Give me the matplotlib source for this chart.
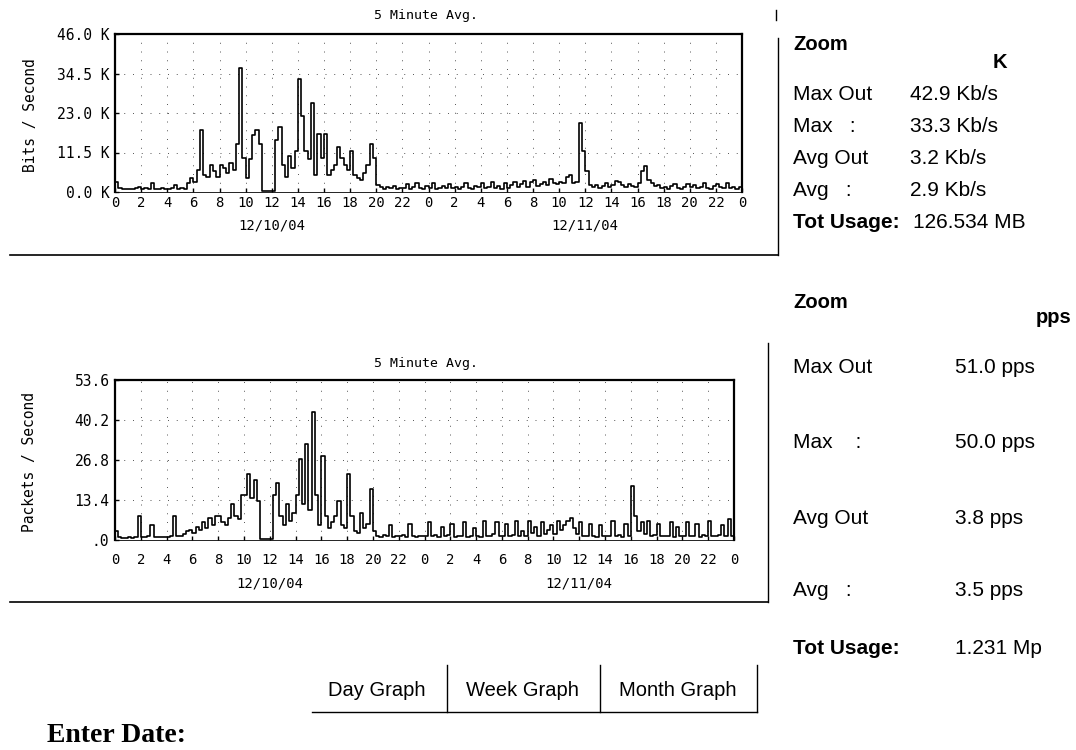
import numpy as np
import matplotlib
matplotlib.use("Agg")
import matplotlib.pyplot as plt
from matplotlib.lines import Line2D
from matplotlib.transforms import blended_transform_factory

# 5-minute averages, sampled every quarter hour over two days (12/10/04, 12/11/04)
STEP_H = 0.25

bits_k = [
    3.0, 1.2, 0.8, 0.9, 1.0, 0.9, 1.1, 1.4,
    1.0, 1.2, 0.9, 2.5, 1.0, 0.9, 1.1, 1.0,
    0.9, 1.2, 2.0, 1.0, 1.1, 0.9, 2.5, 4.0,
    3.0, 6.5, 18.0, 5.0, 4.5, 8.0, 6.0, 4.5,
    8.0, 7.0, 5.5, 8.5, 6.5, 14.0, 36.0, 10.0,
    4.0, 9.5, 16.5, 18.0, 14.0, 0.2, 0.2, 0.2,
    0.2, 15.0, 19.0, 8.0, 4.5, 10.5, 7.0, 12.0,
    33.0, 22.0, 12.0, 9.5, 26.0, 5.0, 17.0, 10.0,
    17.0, 5.0, 6.5, 8.0, 13.0, 10.0, 8.0, 6.5,
    12.0, 5.0, 4.0, 3.5, 5.5, 8.0, 14.0, 10.0,
    2.0, 1.5, 1.0, 1.4, 1.2, 1.8, 1.0, 1.3,
    1.1, 2.2, 1.0, 1.5, 2.5, 1.2, 1.0, 1.8,
    1.2, 2.5, 1.0, 1.3, 1.8, 1.1, 2.4, 1.2,
    1.5, 1.0, 1.6, 2.6, 1.2, 1.0, 1.8, 1.4,
    2.5, 1.1, 1.5, 2.8, 1.2, 1.8, 1.0, 2.6,
    1.3, 1.9, 3.0, 1.4, 2.2, 3.2, 1.5, 2.8,
    3.5, 1.8, 2.4, 3.0, 2.0, 3.8, 2.5, 2.2,
    3.0, 2.5, 4.5, 5.0, 2.5, 3.0, 20.0, 12.0,
    6.0, 2.0, 1.5, 2.0, 1.2, 1.8, 2.5, 1.6,
    2.0, 3.2, 2.8, 2.0, 1.5, 2.2, 1.8, 1.5,
    2.5, 6.0, 7.5, 3.5, 2.5, 1.8, 2.0, 1.2,
    1.5, 1.0, 1.8, 2.4, 1.2, 1.0, 1.6, 2.2,
    1.4, 2.0, 1.1, 1.5, 2.6, 1.3, 1.0, 1.8,
    2.2, 1.4, 1.1, 2.5, 1.2, 1.5, 1.0, 1.6,
    1.2,
]

packets = [
    3.0, 1.0, 0.8, 0.8, 0.9, 0.8, 1.0, 8.0,
    0.9, 1.0, 1.2, 5.0, 1.0, 0.9, 1.1, 1.0,
    1.0, 1.2, 8.0, 1.5, 1.4, 2.0, 3.0, 3.5,
    2.5, 4.5, 3.5, 6.0, 4.0, 7.5, 5.0, 8.0,
    8.0, 6.0, 5.0, 7.5, 12.0, 8.0, 7.0, 15.0,
    15.0, 22.0, 14.0, 20.0, 13.0, 0.2, 0.2, 0.2,
    0.2, 15.0, 19.0, 8.0, 5.0, 12.0, 6.5, 9.0,
    15.0, 27.0, 12.0, 32.0, 10.0, 43.0, 15.0, 5.0,
    28.0, 8.0, 4.0, 6.0, 8.0, 13.0, 5.0, 4.0,
    22.0, 8.0, 3.0, 2.5, 9.0, 4.0, 5.5, 17.0,
    3.0, 1.5, 1.0, 1.8, 1.2, 5.0, 1.0, 1.4,
    1.2, 1.6, 1.0, 5.5, 1.3, 1.0, 1.5, 1.2,
    1.5, 6.0, 1.2, 1.8, 1.0, 4.5, 1.2, 1.6,
    5.5, 1.0, 1.4, 1.2, 6.0, 1.1, 1.5, 4.0,
    1.2, 1.0, 6.5, 1.4, 1.2, 2.0, 6.0, 1.3,
    1.5, 5.5, 1.2, 1.8, 6.5, 1.2, 3.0, 1.5,
    6.5, 2.5, 4.5, 1.5, 6.0, 2.0, 3.5, 5.0,
    2.0, 6.5, 3.5, 5.0, 6.5, 7.5, 4.0, 2.0,
    6.0, 1.5, 1.2, 5.5, 1.4, 1.0, 5.0, 1.2,
    1.5, 1.3, 6.5, 1.2, 1.6, 1.0, 5.5, 1.5,
    18.0, 8.0, 3.0, 6.0, 2.0, 6.5, 1.5, 1.8,
    5.5, 1.2, 1.5, 1.3, 6.0, 1.0, 4.5, 1.2,
    1.5, 6.0, 1.2, 1.4, 5.5, 1.0, 1.8, 1.2,
    6.5, 1.4, 1.2, 1.6, 5.0, 1.3, 7.0, 1.5,
    1.5,
]

dates = ["12/10/04", "12/11/04"]
bits_ticks = [0.0, 11.5, 23.0, 34.5, 46.0]
bits_ticklabels = ["0.0 K", "11.5 K", "23.0 K", "34.5 K", "46.0 K"]
pkt_ticks = [0.0, 13.4, 26.8, 40.2, 53.6]
pkt_ticklabels = [".0", "13.4", "26.8", "40.2", "53.6"]

bits_stats = [("Max Out", "42.9 Kb/s"), ("Max   :", "33.3 Kb/s"),
              ("Avg Out", "3.2 Kb/s"), ("Avg   :", "2.9 Kb/s")]
bits_total = "126.534 MB"
pkt_stats = [("Max Out", "51.0 pps"), ("Max    :", "50.0 pps"),
             ("Avg Out", "3.8 pps"), ("Avg   :", "3.5 pps")]
pkt_total = "1.231 Mp"
buttons = ["Day Graph", "Week Graph", "Month Graph"]

W, H = 1076, 750
fig = plt.figure(figsize=(W / 100, H / 100), dpi=100)
fig.patch.set_facecolor("white")

MONO = "DejaVu Sans Mono"
SANS = "Liberation Sans"


def fx(x):
    return x / W


def fy(y):
    return 1 - y / H


def hline(x0, x1, y, lw=1.2):
    fig.add_artist(Line2D([fx(x0), fx(x1)], [fy(y), fy(y)], color="black", lw=lw))


def vline(x, y0, y1, lw=1.0):
    fig.add_artist(Line2D([fx(x), fx(x)], [fy(y0), fy(y1)], color="black", lw=lw))


def traffic_panel(rect, values, ticks, ticklabels, ylabel, title_y, ylabel_y,
                  xpad, date_off):
    ax = fig.add_axes(rect)
    hours = np.arange(len(values)) * STEP_H
    ax.plot(hours, values, color="black", lw=1.2, drawstyle="steps-post")
    ax.set_xlim(0, 48)
    ax.set_ylim(ticks[0], ticks[-1])
    ax.set_xticks(np.arange(0, 49, 2))
    ax.set_xticklabels([str(int(h) % 24) for h in np.arange(0, 49, 2)],
                       family=MONO, fontsize=10)
    ax.set_yticks(ticks)
    ax.set_yticklabels(ticklabels, family=MONO, fontsize=10.5)
    ax.tick_params(direction="in", length=3, width=1)
    ax.tick_params(axis="x", pad=xpad)
    ax.tick_params(axis="y", pad=4)
    ax.grid(True, color="#555555", lw=0.7, linestyle=(0, (1, 8)))
    for s in ax.spines.values():
        s.set_linewidth(1.6)
    ax.spines["bottom"].set_linewidth(0.6)
    tr = blended_transform_factory(ax.transData, ax.transAxes)
    for i, d in enumerate(dates):
        ax.text(12 + 24 * i, -date_off, d, transform=tr, ha="center", va="center",
                family=MONO, fontsize=10)
    fig.text(fx(426), fy(title_y), "5 Minute Avg.", ha="center", va="center",
             family=MONO, fontsize=9.5)
    fig.text(fx(30), fy(ylabel_y), ylabel, rotation=90, ha="center", va="center",
             family=MONO, fontsize=10.5)
    return ax


traffic_panel([fx(115), fy(192), fx(742) - fx(115), fy(34) - fy(192)],
              bits_k, bits_ticks, bits_ticklabels, "Bits / Second", 15, 115,
              3, 0.21)
traffic_panel([fx(115), fy(540), fx(734) - fx(115), fy(380) - fy(540)],
              packets, pkt_ticks, pkt_ticklabels, "Packets / Second", 363, 462,
              9, 0.27)

# panel frames
hline(10, 778, 255)
vline(778, 38, 255)
vline(776, 10, 20)
hline(10, 768, 602)
vline(768, 343, 602)

# statistics, top
fig.text(fx(793), fy(45), "Zoom", family=SANS, fontsize=14.5, weight="bold", va="center")
fig.text(fx(1000), fy(62), "K", family=SANS, fontsize=14.5, weight="bold",
         va="center", ha="center")
for (lab, val), y in zip(bits_stats, [95, 127, 158, 190]):
    fig.text(fx(793), fy(y), lab, family=SANS, fontsize=15, va="center")
    fig.text(fx(910), fy(y), val, family=SANS, fontsize=15, va="center")
fig.text(fx(793), fy(222), "Tot Usage:", family=SANS, fontsize=15, weight="bold", va="center")
fig.text(fx(913), fy(222), bits_total, family=SANS, fontsize=15, va="center")

# statistics, bottom
fig.text(fx(793), fy(302), "Zoom", family=SANS, fontsize=14.5, weight="bold", va="center")
fig.text(fx(1054), fy(317), "pps", family=SANS, fontsize=14.5, weight="bold",
         va="center", ha="center")
for (lab, val), y in zip(pkt_stats, [368, 442, 518, 590]):
    fig.text(fx(793), fy(y), lab, family=SANS, fontsize=15, va="center")
    fig.text(fx(955), fy(y), val, family=SANS, fontsize=15, va="center")
fig.text(fx(793), fy(648), "Tot Usage:", family=SANS, fontsize=15, weight="bold", va="center")
fig.text(fx(955), fy(648), pkt_total, family=SANS, fontsize=15, va="center")

# buttons and date entry
for lab, cx in zip(buttons, [377, 522, 678]):
    fig.text(fx(cx), fy(690), lab, family=SANS, fontsize=14.5, ha="center", va="center")
for x in [447, 600, 757]:
    vline(x, 665, 712)
hline(312, 757, 712, lw=1.0)
fig.text(fx(47), fy(735), "Enter Date:", family="Liberation Serif", fontsize=20,
         weight="bold", va="center")

fig.savefig("out.png", dpi=100, facecolor="white")
